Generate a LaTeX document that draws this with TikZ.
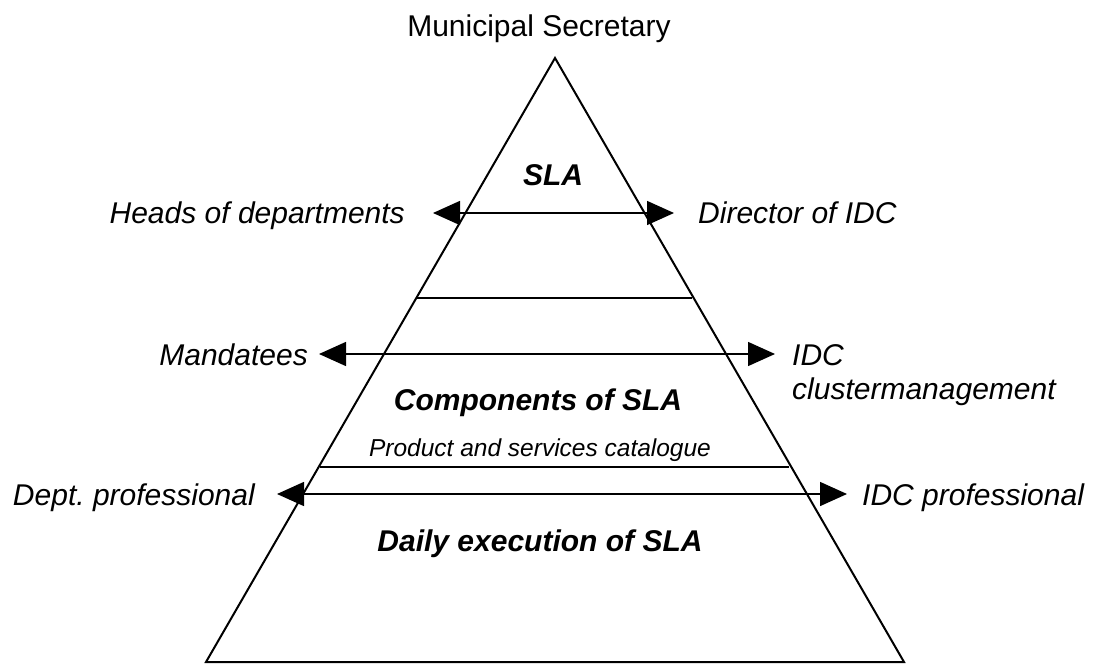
\documentclass[tikz,border=0pt]{standalone}
\usepackage{fontspec}
\setmainfont{Liberation Sans}
\usetikzlibrary{arrows.meta}
\begin{document}
\begin{tikzpicture}[x=1pt,y=-1pt,
  lbl/.style={inner sep=0pt,font=\fontsize{30}{36}\selectfont\itshape},
  ttl/.style={inner sep=0pt,font=\fontsize{30}{36}\selectfont},
  bold/.style={inner sep=0pt,font=\fontsize{30}{36}\selectfont\bfseries\itshape},
  small/.style={inner sep=0pt,font=\fontsize{24.5}{30}\selectfont\itshape},
  tri/.style={line width=2pt,line join=miter},
  sep/.style={line width=1.5pt},
  dbl/.style={line width=1.5pt,{Triangle[length=27pt,width=24pt]}-{Triangle[length=27pt,width=24pt]}}]
\useasboundingbox (0,0) rectangle (1094,668);
% triangle
\coordinate (apex) at (555,58);
\coordinate (bl) at (206,662);
\coordinate (br) at (904,662);
\draw[tri] (apex) -- (bl) -- (br) -- cycle;
% separators
\coordinate (s1l) at (417,298);
\coordinate (s1r) at (692,298);
\coordinate (s2l) at (320,467);
\coordinate (s2r) at (789,467);
\draw[sep] (s1l) -- (s1r);
\draw[sep] (s2l) -- (s2r);
% labels
\node[ttl,anchor=base] (ms) at (539,37) {Municipal Secretary};
\node[bold,anchor=base] (sla) at (553,186) {SLA};
\node[lbl,anchor=base east] (hod) at (405,224) {Heads of departments};
\node[lbl,anchor=base west] (dir) at (698,224) {Director of IDC};
\node[lbl,anchor=base east] (man) at (308,365) {Mandatees};
\node[lbl,anchor=base west] (idc) at (792,365) {IDC};
\node[lbl,anchor=base west] (clu) at (792,399) {clustermanagement};
\node[bold,anchor=base] (comp) at (538,410) {Components of SLA};
\node[small,anchor=base] (prod) at (540,456) {Product and services catalogue};
\node[lbl,anchor=base east] (dept) at (255,505) {Dept.\ professional};
\node[lbl,anchor=base west] (idcp) at (862,505) {IDC professional};
\node[bold,anchor=base] (daily) at (540,551) {Daily execution of SLA};
% arrows
\coordinate (a1l) at (433,213);
\coordinate (a1r) at (674,213);
\coordinate (a2l) at (319,354);
\coordinate (a2r) at (775,354);
\coordinate (a3l) at (277,494);
\coordinate (a3r) at (847,494);
\draw[dbl] (a1l) -- (a1r);
\draw[dbl] (a2l) -- (a2r);
\draw[dbl] (a3l) -- (a3r);
\end{tikzpicture}
\end{document}
